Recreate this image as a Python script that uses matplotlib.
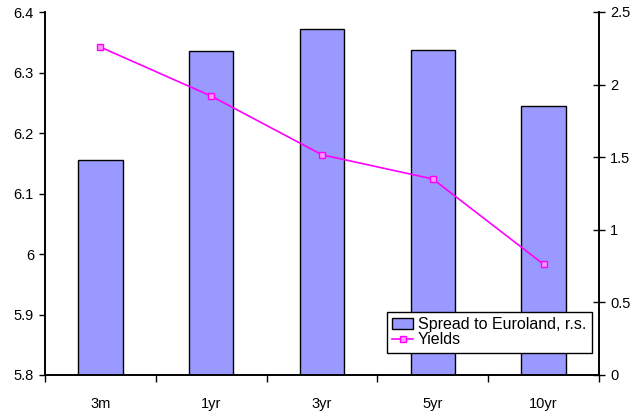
import matplotlib
matplotlib.use("Agg")
import matplotlib.pyplot as plt
import numpy as np

plt.rcParams['font.family'] = ['Liberation Sans', 'DejaVu Sans']

categories = ["3m", "1yr", "3yr", "5yr", "10yr"]
spread = [1.48, 2.23, 2.38, 2.24, 1.855]      # right scale
yields = [6.342, 6.261, 6.164, 6.124, 5.983]  # left scale

fig = plt.figure(figsize=(6.35, 4.16), dpi=100)
ax_bar = fig.add_axes([45 / 635, 41 / 416, 554 / 635, 363 / 416])
ax_line = ax_bar.twinx()

x = np.arange(len(categories))

# Bars on the right-hand scale
ax_bar.bar(x, spread, width=0.4, color="#9999FF", edgecolor="black",
           linewidth=1.0, label="Spread to Euroland, r.s.", zorder=2)
ax_bar.set_ylim(0, 2.5)
ax_bar.set_yticks(np.arange(0, 2.51, 0.5))
ax_bar.set_yticklabels(["0", "0.5", "1", "1.5", "2", "2.5"])
ax_bar.yaxis.tick_right()
ax_bar.tick_params(axis="y", direction="inout", length=8, width=1, labelsize=10.5, pad=4)
ax_bar.set_xlim(-0.5, len(categories) - 0.5)
ax_bar.set_xticks(np.arange(-0.5, len(categories), 1.0))
ax_bar.set_xticklabels([])
ax_bar.set_xticks(x, minor=True)
ax_bar.set_xticklabels(categories, minor=True)
ax_bar.tick_params(axis="x", which="major", direction="out", length=5, width=1)
ax_bar.tick_params(axis="x", which="minor", length=0, labelsize=10.5, pad=16)

# Yield line on the left-hand scale
ax_line.plot(x, yields, color="#FF00FF", linewidth=1.2, marker="s",
             markersize=4, markerfacecolor="#FF99FF", markeredgecolor="#FF00FF",
             label="Yields", zorder=3)
ax_line.set_ylim(5.8, 6.4)
ax_line.set_yticks(np.arange(5.8, 6.41, 0.1))
ax_line.set_yticklabels(["5.8", "5.9", "6", "6.1", "6.2", "6.3", "6.4"])
ax_line.yaxis.tick_left()
ax_line.tick_params(axis="y", direction="out", length=4, width=1, labelsize=10.5, pad=4)

for a in (ax_bar, ax_line):
    a.spines["top"].set_visible(False)
    for s in ("left", "right", "bottom"):
        a.spines[s].set_linewidth(1.2)

h1, l1 = ax_bar.get_legend_handles_labels()
h2, l2 = ax_line.get_legend_handles_labels()
leg = ax_line.legend(h1 + h2, l1 + l2, loc="lower right",
                     bbox_to_anchor=(592 / 635, 63 / 416), bbox_transform=fig.transFigure,
                     frameon=True, fancybox=False, framealpha=1.0, fontsize=11.5,
                     borderpad=0.35, labelspacing=0.0, handlelength=1.3,
                     handletextpad=0.3, borderaxespad=0.0)
leg.get_frame().set_edgecolor("black")
leg.get_frame().set_linewidth(1.0)

fig.savefig("out.png", dpi=100)
